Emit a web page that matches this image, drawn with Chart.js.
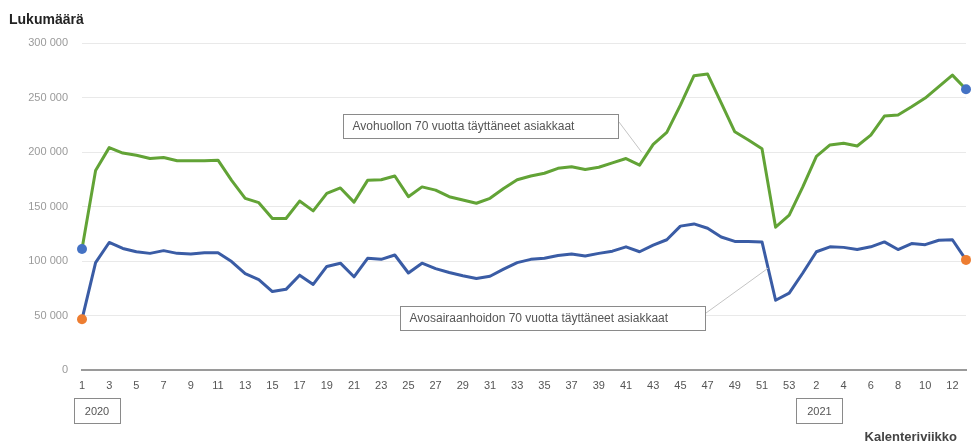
<!DOCTYPE html>
<html><head><meta charset="utf-8">
<script src="https://cdn.jsdelivr.net/npm/chart.js@4"></script>
<style>html,body{margin:0;padding:0;background:#fff;}canvas{display:block;}</style>
</head><body>
<canvas id="c" width="972" height="443"></canvas>
<script>
// Categories: calendar weeks 2020 (1..53) and 2021 (1..13)
const weeks2020 = [1,2,3,4,5,6,7,8,9,10,11,12,13,14,15,16,17,18,19,20,21,22,23,24,25,26,27,28,29,30,31,32,33,34,35,36,37,38,39,40,41,42,43,44,45,46,47,48,49,50,51,52,53];
const weeks2021 = [1,2,3,4,5,6,7,8,9,10,11,12,13];
const weekLabels = weeks2020.concat(weeks2021).map(String);

// Series values
const avohuolto = [111000,183000,204000,199000,197000,194000,195000,192000,192000,192000,192500,174000,157500,153500,139000,139000,155000,146000,162000,167000,154000,174000,174500,178000,159000,168000,165000,159000,156000,153000,157500,166500,174500,178000,180500,185000,186500,184000,186000,190000,194000,188000,207000,218000,243000,270000,271500,245000,218500,211000,203000,131000,142000,168000,196000,206500,208000,205500,215500,233000,234000,241500,249500,260000,270500,257500];
const avosairaanhoito = [46500,98500,117000,111500,108500,107000,109500,107000,106500,107500,107500,99500,88500,83000,72000,74000,87000,78500,95000,98000,85500,102500,101500,105500,89000,98000,93000,89500,86500,84000,86000,92500,98500,101500,102500,105000,106500,104500,107000,109000,113000,108500,114500,119500,132000,134000,130000,122000,118000,118000,117500,64000,70500,89000,108500,113000,112500,110500,113000,117500,110500,116000,115000,119000,119500,101000];

// Text
const seriesNames = ['Avohuollon 70 vuotta täyttäneet asiakkaat', 'Avosairaanhoidon 70 vuotta täyttäneet asiakkaat'];
const yearLabels = ['2020', '2021'];
const yAxisTitle = 'Lukumäärä';
const xAxisTitle = 'Kalenteriviikko';
const yMin = 0, yMax = 300000, yStep = 50000;

const FONT = '"Liberation Sans", Arial, sans-serif';
const GREEN = '#62a336', BLUE = '#3a5ca5', DOT_BLUE = '#4472c4', DOT_ORANGE = '#ed7d31';

function endDot(color) {
  return {
    pointRadius: ctx => (ctx.dataIndex === 0 || ctx.dataIndex === ctx.dataset.data.length - 1) ? 5 : 0,
    pointBackgroundColor: color,
    pointBorderColor: color,
    pointBorderWidth: 0,
    pointHoverRadius: 0
  };
}

const overlay = {
  id: 'overlay',
  afterDraw(chart) {
    const ctx = chart.ctx, xs = chart.scales.x, ys = chart.scales.y;
    ctx.save();
    ctx.textBaseline = 'middle';
    // Axis titles
    ctx.font = 'bold 14px ' + FONT;
    ctx.fillStyle = '#222';
    ctx.textAlign = 'left';
    ctx.fillText(yAxisTitle, 9, 20);
    ctx.font = 'bold 13px ' + FONT;
    ctx.fillStyle = '#444';
    ctx.textAlign = 'right';
    ctx.fillText(xAxisTitle, 957, 437);

    // Year boxes
    ctx.font = '11px ' + FONT;
    ctx.fillStyle = '#555';
    ctx.textAlign = 'center';
    ctx.strokeStyle = '#8a8a8a';
    ctx.lineWidth = 1;
    const yb = [
      {text: yearLabels[0], cx: xs.getPixelForValue(0) + 15},
      {text: yearLabels[1], cx: xs.getPixelForValue(54) + 3}
    ];
    yb.forEach(b => {
      const w = 46, h = 25, left = Math.round(b.cx - w / 2) + 0.5, top = 398.5;
      ctx.strokeRect(left, top, w, h);
      ctx.fillText(b.text, b.cx, top + h / 2 + 0.5);
    });

    // Annotation leader lines
    ctx.strokeStyle = '#c4c4c4';
    ctx.lineWidth = 1;
    const g41x = xs.getPixelForValue(41), g41y = ys.getPixelForValue(avohuolto[41]);
    ctx.beginPath();
    ctx.moveTo(619, 122);
    ctx.lineTo(g41x + 2, g41y - 13);
    ctx.stroke();
    const t = 0.45;
    const bx = xs.getPixelForValue(50) * (1 - t) + xs.getPixelForValue(51) * t;
    const by = ys.getPixelForValue(avosairaanhoito[50]) * (1 - t) + ys.getPixelForValue(avosairaanhoito[51]) * t;
    ctx.beginPath();
    ctx.moveTo(706, 313);
    ctx.lineTo(bx, by);
    ctx.stroke();

    // Annotation boxes
    const boxes = [
      {text: seriesNames[0], x: 343.5, y: 114.5, w: 275, h: 24},
      {text: seriesNames[1], x: 400.5, y: 306.5, w: 305, h: 24}
    ];
    ctx.font = '12px ' + FONT;
    ctx.textAlign = 'left';
    boxes.forEach(b => {
      ctx.fillStyle = '#fff';
      ctx.fillRect(b.x, b.y, b.w, b.h);
      ctx.strokeStyle = '#8a8a8a';
      ctx.strokeRect(b.x, b.y, b.w, b.h);
      ctx.fillStyle = '#555';
      ctx.fillText(b.text, b.x + 9, b.y + b.h / 2 + 0.5);
    });
    ctx.restore();
  }
};

new Chart(document.getElementById('c'), {
  type: 'line',
  data: {
    labels: weekLabels,
    datasets: [
      Object.assign({label: seriesNames[0], data: avohuolto, borderColor: GREEN, borderWidth: 3, tension: 0, clip: false, borderJoinStyle: 'round'}, endDot(DOT_BLUE)),
      Object.assign({label: seriesNames[1], data: avosairaanhoito, borderColor: BLUE, borderWidth: 3, tension: 0, clip: false, borderJoinStyle: 'round'}, endDot(DOT_ORANGE))
    ]
  },
  options: {
    responsive: false,
    animation: false,
    events: [],
    layout: {padding: {top: 43, right: 6, bottom: 0, left: 0}},
    plugins: {legend: {display: false}, tooltip: {enabled: false}, title: {display: false}},
    scales: {
      x: {
        offset: false,
        grid: {display: false, drawTicks: false},
        border: {display: true, color: '#9a9a9a', width: 2},
        ticks: {
          autoSkip: false, maxRotation: 0, minRotation: 0, padding: 9,
          color: '#555', font: {family: FONT, size: 11},
          callback: (v, i) => (i % 2 === 0 ? weekLabels[i] : '')
        },
        afterFit: s => { s.height = 73; s.paddingRight = 0; s.paddingLeft = 0; }
      },
      y: {
        min: yMin, max: yMax,
        grid: {color: '#e9e9e9', lineWidth: 1, drawTicks: false},
        border: {display: false},
        ticks: {
          stepSize: yStep, padding: 14,
          color: '#9a9a9a', font: {family: FONT, size: 11},
          callback: v => String(v).replace(/\B(?=(\d{3})+(?!\d))/g, ' ')
        },
        afterFit: s => { s.width = 82; }
      }
    }
  },
  plugins: [overlay]
});
</script>
</body></html>
